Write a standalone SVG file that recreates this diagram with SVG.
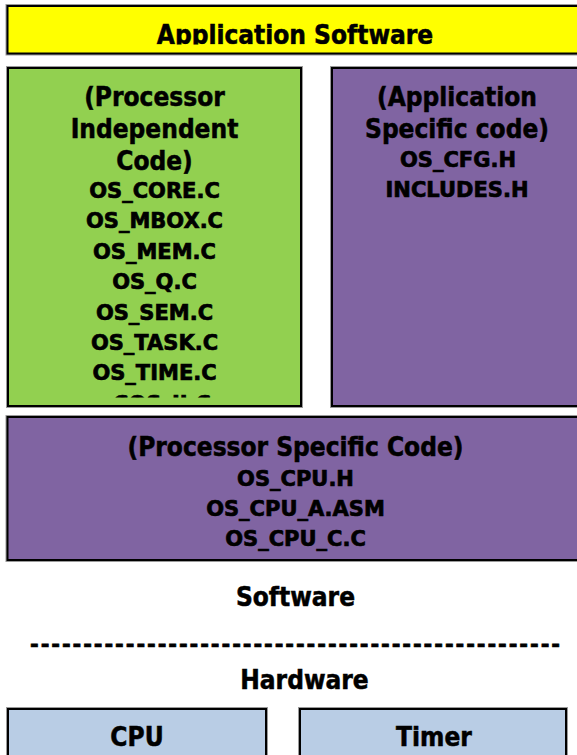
<svg xmlns="http://www.w3.org/2000/svg" width="577" height="755" viewBox="0 0 577 755">
<style>
.box{stroke:#000;stroke-width:2}
.sh{fill:none;stroke:#9a9a9a;stroke-width:4}
.h{font-family:"DejaVu Sans Condensed","DejaVu Sans",sans-serif;font-stretch:condensed;font-weight:bold;font-size:26px;fill:#000;stroke:#000;stroke-width:0.5;text-anchor:middle}
.f{font-family:"DejaVu Sans","Verdana",sans-serif;font-weight:bold;font-size:21px;fill:#000;stroke:#000;stroke-width:0.7;text-anchor:middle}
</style>
<defs>
<clipPath id="clipApp"><rect x="9" y="8" width="570" height="36.5"/></clipPath>
<clipPath id="clipGreen"><rect x="9" y="70" width="290" height="327.5"/></clipPath>
</defs>
<rect width="577" height="755" fill="#fff"/>
<g id="app-software">
<rect class="sh" x="7.5" y="6" width="580" height="47.5"/>
<rect class="box" x="7.5" y="6" width="580" height="47.5" fill="#ffff00"/>
<text class="h" x="295" y="44" clip-path="url(#clipApp)">Application Software</text>
</g>
<g id="processor-independent">
<rect class="sh" x="8" y="68" width="293" height="338"/>
<rect class="box" x="8" y="68" width="293" height="338" fill="#92d050"/>
<g clip-path="url(#clipGreen)">
<text class="h" x="154.5" y="106">(Processor</text>
<text class="h" x="154.5" y="138">Independent</text>
<text class="h" x="154.5" y="170">Code)</text>
<text class="f" x="154.5" y="197.5">OS_CORE.C</text>
<text class="f" x="154.5" y="228">OS_MBOX.C</text>
<text class="f" x="154.5" y="258.5">OS_MEM.C</text>
<text class="f" x="154.5" y="289">OS_Q.C</text>
<text class="f" x="154.5" y="319.5">OS_SEM.C</text>
<text class="f" x="154.5" y="350">OS_TASK.C</text>
<text class="f" x="154.5" y="380">OS_TIME.C</text>
<text class="f" x="154.5" y="411">uCOS_II.C</text>
</g>
</g>
<g id="application-specific">
<rect class="sh" x="332" y="68" width="260" height="338"/>
<rect class="box" x="332" y="68" width="260" height="338" fill="#8064a2"/>
<text class="h" x="457" y="106">(Application</text>
<text class="h" x="457" y="138">Specific code)</text>
<text class="f" x="458" y="167">OS_CFG.H</text>
<text class="f" x="457" y="196.5">INCLUDES.H</text>
</g>
<g id="processor-specific">
<rect class="sh" x="7.5" y="417" width="580" height="143"/>
<rect class="box" x="7.5" y="417" width="580" height="143" fill="#8064a2"/>
<text class="h" x="295.5" y="456">(Processor Specific Code)</text>
<text class="f" x="295.5" y="486">OS_CPU.H</text>
<text class="f" x="295.5" y="515.5">OS_CPU_A.ASM</text>
<text class="f" x="295.5" y="545.5">OS_CPU_C.C</text>
</g>
<g id="labels">
<text class="h" x="295.5" y="606">Software</text>
<text class="f" x="295" y="652" textLength="530" lengthAdjust="spacing">--------------------------------------------------</text>
<text class="h" x="304.5" y="689">Hardware</text>
</g>
<g id="cpu">
<rect class="sh" x="8" y="709" width="258" height="60"/>
<rect class="box" x="8" y="709" width="258" height="60" fill="#b9cde5"/>
<text class="h" x="137" y="746">CPU</text>
</g>
<g id="timer">
<rect class="sh" x="300" y="709" width="266" height="60"/>
<rect class="box" x="300" y="709" width="266" height="60" fill="#b9cde5"/>
<text class="h" x="434" y="746">Timer</text>
</g>
<g id="connectors"></g>
</svg>
